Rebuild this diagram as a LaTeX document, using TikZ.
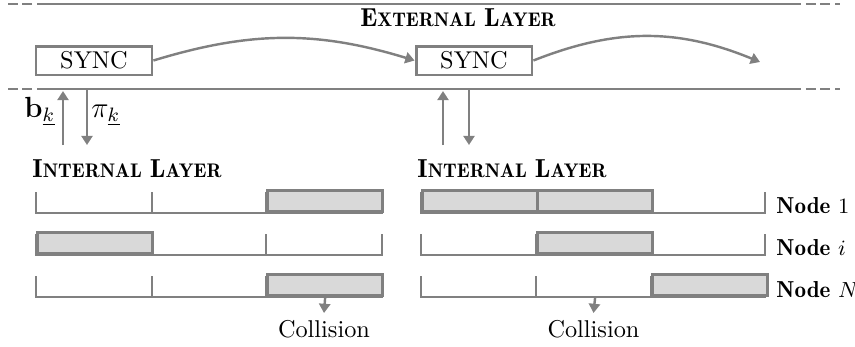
\documentclass[tikz,border=0pt]{standalone}
\usetikzlibrary{arrows.meta}
\definecolor{linegray}{RGB}{128,128,128}
\definecolor{slotfill}{RGB}{217,217,217}
% bold caps with smaller bold capitals for the rest of each word
\newcommand{\bcaps}[2]{{\fontsize{10.7}{12}\selectfont #1}{\fontsize{8.1}{10}\selectfont #2}}
\newcommand{\demi}{\fontseries{b}\selectfont}
\tikzset{
  layerline/.style={draw=linegray, line width=1.2pt},
  layerdash/.style={draw=linegray, line width=1.2pt, dash pattern=on 4pt off 2pt, dash phase=4pt},
  syncbox/.style={draw=linegray, line width=1.2pt, minimum width=47.7pt, minimum height=11.9pt, inner sep=0pt},
  flow/.style={draw=linegray, line width=1pt, -{Triangle[length=3.8pt,width=4.6pt]}},
  track/.style={draw=linegray, line width=1.1pt},
  busy/.style={draw=linegray, fill=slotfill, line width=1.4pt, minimum width=47.3pt, minimum height=8.6pt, inner sep=0pt, anchor=south west},
  lbl/.style={inner sep=0pt, anchor=base west},
  nodelbl/.style={inner sep=0pt, anchor=base west, font=\fontsize{9.5}{11}\selectfont},
  mathlbl/.style={inner sep=0pt, anchor=base west, font=\fontsize{12}{14}\selectfont},
}
\begin{document}
\begin{tikzpicture}[x=0.4115pt, y=-0.4115pt]
\useasboundingbox (0,0) rectangle (855,346);

% layer boundaries
\foreach \yy in {4,89} {
  \draw[layerdash] (37,\yy) -- (5,\yy);
  \draw[layerline] (37,\yy) -- (801,\yy);
  \draw[layerdash] (801,\yy) -- (840,\yy);
}

\node[inner sep=0pt, anchor=base] (ext) at (458,26) {\demi\bcaps{E}{XTERNAL} \bcaps{L}{AYER}};

\node[syncbox] (sync1) at (94,60.5) {SYNC};
\node[syncbox] (sync2) at (474,60.5) {SYNC};
\coordinate (next) at (760,62);
\draw[flow] (sync1.east) to[bend left=17] (sync2.west);
\draw[flow] (sync2.east) to[bend left=22] (next);

% exchange between the layers
\coordinate (up1s) at (63,145); \coordinate (up1e) at (63,91);
\coordinate (dn1s) at (87,90);  \coordinate (dn1e) at (87,145);
\coordinate (up2s) at (443,145); \coordinate (up2e) at (443,91);
\coordinate (dn2s) at (469,90);  \coordinate (dn2e) at (469,145);
\draw[flow] (up1s) -- (up1e);
\draw[flow] (dn1s) -- (dn1e);
\draw[flow] (up2s) -- (up2e);
\draw[flow] (dn2s) -- (dn2e);
\node[mathlbl] (bk) at (24,117) {$\mathbf{b}_{\underline{k}}$};
\node[mathlbl] (pik) at (91,117) {$\pi_{\underline{k}}$};

\node[lbl] (int1) at (32,177) {\demi\bcaps{I}{NTERNAL} \bcaps{L}{AYER}};
\node[lbl] (int2) at (417,177) {\demi\bcaps{I}{NTERNAL} \bcaps{L}{AYER}};

% time slots of the three nodes
\foreach \xa/\xb/\xc/\xd in {36/152/266/382, 421/536/651/765} {
  \foreach \base in {213,255,297} {
    \draw[track] (\xa,\base-21) -- (\xa,\base) -- (\xd,\base) -- (\xd,\base-21);
    \draw[track] (\xb,\base-21) -- (\xb,\base);
    \draw[track] (\xc,\base-21) -- (\xc,\base);
  }
}
% occupied slots
\node[busy] (a1) at (266,213) {};
\node[busy] (a2) at (36,255) {};
\node[busy] (a3) at (266,297) {};
\node[busy] (b1) at (421,213) {};
\node[busy] (b2) at (536,213) {};
\node[busy] (b3) at (536,255) {};
\node[busy] (b4) at (651,297) {};

\node[inner sep=0pt, anchor=base] (col1) at (324,337) {Collision};
\node[inner sep=0pt, anchor=base] (col2) at (593.5,337) {Collision};
\coordinate (col1t) at (324,313);
\coordinate (col2t) at (593.5,313);
\draw[flow] (a3.south) -- (col1t);
\draw[flow] (b3.south |- b4.south) -- (col2t);

\node[nodelbl] (n1) at (776,213) {{\demi Node} $1$};
\node[nodelbl] (ni) at (776,255) {{\demi Node} $i$};
\node[nodelbl] (nN) at (776,297) {{\demi Node} $N$};
\end{tikzpicture}
\end{document}
